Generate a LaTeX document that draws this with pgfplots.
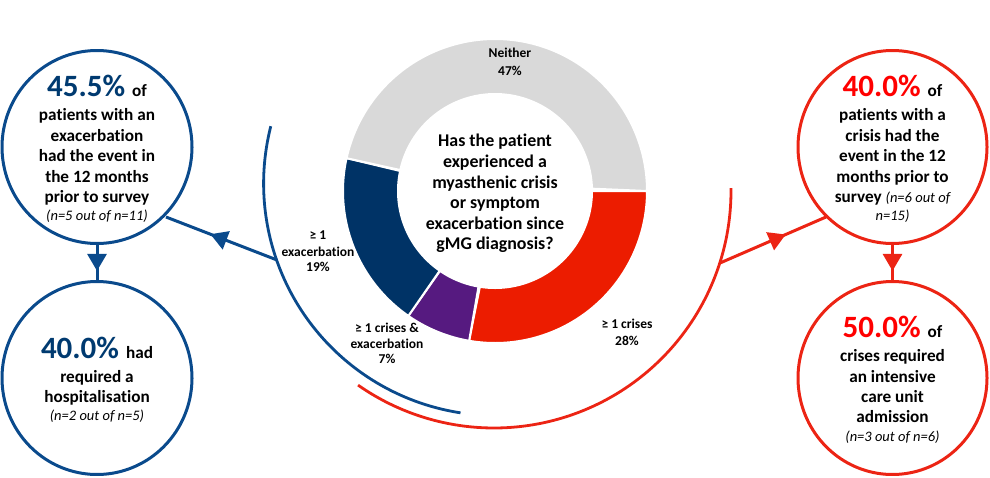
\documentclass[border=0pt]{standalone}
\usepackage{fontspec}
\setmainfont{Carlito}[Ligatures=NoCommon]
\usepackage{pgfplots}
\pgfplotsset{compat=1.18}
\usetikzlibrary{arrows.meta,decorations.markings}
\definecolor{segGray}{HTML}{D9D9D9}
\definecolor{segNavy}{HTML}{003366}
\definecolor{segPurple}{HTML}{561A80}
\definecolor{segRed}{HTML}{EC1C00}
\definecolor{lineBlue}{HTML}{0A4A8C}
\definecolor{lineRed}{HTML}{EC2414}
\definecolor{txtNavy}{HTML}{003A70}
\definecolor{txtRed}{HTML}{FF0000}
% donut data (% of patients)
\def\vCrisis{28}\def\vBoth{7}\def\vExac{19}\def\vNeither{47}
\pgfmathsetmacro\tot{\vCrisis+\vBoth+\vExac+\vNeither}
\pgfmathsetmacro\aA{-360*\vCrisis/\tot}
\pgfmathsetmacro\aB{\aA-360*\vBoth/\tot}
\pgfmathsetmacro\aC{\aB-360*\vExac/\tot}
\def\aD{-360}
\newcommand\sector[3]{%
 \addplot[fill=#1, draw=white, line width=2pt, line join=round, domain=0:2, samples=241, variable=\s]
 ({495+ifthenelse(\s<=1,152,97)*cos(ifthenelse(\s<=1,(#2)+((#3)-(#2))*\s,(#3)+((#2)-(#3))*(\s-1)))},
  {191-ifthenelse(\s<=1,152,97)*sin(ifthenelse(\s<=1,(#2)+((#3)-(#2))*\s,(#3)+((#2)-(#3))*(\s-1)))}) -- cycle;}
\newcommand\ring[5]{%
 \addplot[draw=#1, line width=3pt, domain=0:360, samples=150, variable=\s]
 ({#2+#4*cos(\s)},{#3-#5*sin(\s)}) -- cycle;}
\newcommand\txt[4]{\node[anchor=base, inner sep=0pt, font=#4] at (axis cs:#1,#2) {#3};}
\newcommand\fb{\fontsize{17.2}{20}\selectfont\bfseries}
\newcommand\fbig{\fontsize{31}{34}\selectfont\bfseries}
\newcommand\fit{\fontsize{14.5}{17}\selectfont\mdseries\itshape}
\newcommand\fdl{\fontsize{13.5}{16}\selectfont\bfseries}
\newcommand\fq{\fontsize{17.9}{21}\selectfont\bfseries}
\begin{document}
\begin{tikzpicture}
\begin{axis}[x=1pt, y=1pt, xmin=0, xmax=990, ymin=0, ymax=477, y dir=reverse, hide axis, clip=false]
% donut
\sector{segRed}{0}{\aA}
\sector{segPurple}{\aA}{\aB}
\sector{segNavy}{\aB}{\aC}
\sector{segGray}{\aC}{\aD}
% big arcs
\addplot[lineBlue, line width=2.8pt, domain=165.7:261.3, samples=100] ({495.6+232*cos(x)},{183.5-232*sin(x)});
\addplot[lineRed, line width=2.8pt, domain=-125:0.7, samples=100] ({494+237*cos(x)},{191-237*sin(x)});
% circles
\ring{lineBlue}{97}{147}{95}{96.5}
\ring{lineBlue}{97}{378}{95}{96.5}
\ring{lineRed}{892.5}{147}{94.5}{96.5}
\ring{lineRed}{892.5}{378}{94.5}{96.5}
% connectors
\addplot[lineBlue, line width=3pt, postaction={decorate}, decoration={markings, mark=at position 0.6 with {\arrow{Triangle[length=17pt,width=19pt]}}}] coordinates {(277,260) (166,217)};
\addplot[lineRed, line width=3pt, postaction={decorate}, decoration={markings, mark=at position 0.62 with {\arrow{Triangle[length=17pt,width=19pt]}}}] coordinates {(720,263) (826,217)};
\addplot[lineBlue, line width=3pt, postaction={decorate}, decoration={markings, mark=at position 0.72 with {\arrow{Triangle[length=17pt,width=19pt]}}}] coordinates {(97,245) (97,281)};
\addplot[lineRed, line width=3pt, postaction={decorate}, decoration={markings, mark=at position 0.72 with {\arrow{Triangle[length=17pt,width=19pt]}}}] coordinates {(892.5,245) (892.5,281)};
% donut labels
\txt{510}{57.5}{Neither}{\fdl}
\txt{510}{75.5}{47\%}{\fdl}
\txt{318}{239.5}{≥ 1}{\fdl}
\txt{318}{256.5}{exacerbation}{\fdl}
\txt{318}{271.5}{19\%}{\fdl}
\txt{387}{332.5}{≥ 1 crises \&}{\fdl}
\txt{387}{348.5}{exacerbation}{\fdl}
\txt{387}{363.5}{7\%}{\fdl}
\txt{627}{328.5}{≥ 1 crises}{\fdl}
\txt{627}{345.5}{28\%}{\fdl}
% question
\txt{495}{146}{Has the patient}{\fq}
\txt{495}{167}{experienced a}{\fq}
\txt{495}{188}{myasthenic crisis}{\fq}
\txt{495}{208}{or symptom}{\fq}
\txt{495}{229}{exacerbation since}{\fq}
\txt{495}{249}{gMG diagnosis?}{\fq}
% left top circle
\txt{97}{96.5}{{\fbig\color{txtNavy}45.5\% }of}{\fb}
\txt{97}{120.5}{patients with an}{\fb}
\txt{97}{141}{exacerbation}{\fb}
\txt{97}{161.5}{had the event in}{\fb}
\txt{97}{182}{the 12 months}{\fb}
\txt{97}{202.5}{prior to survey}{\fb}
\txt{97}{220}{(n=5 out of n=11)}{\fit}
% left bottom circle
\txt{97}{358}{{\fbig\color{txtNavy}40.0\% }had}{\fb}
\txt{97}{382}{required a}{\fb}
\txt{97}{402}{hospitalisation}{\fb}
\txt{97}{420}{(n=2 out of n=5)}{\fit}
% right top circle
\txt{892.5}{96.5}{{\fbig\color{txtRed}40.0\% }of}{\fb}
\txt{892.5}{120.5}{patients with a}{\fb}
\txt{892.5}{141}{crisis had the}{\fb}
\txt{892.5}{161.5}{event in the 12}{\fb}
\txt{892.5}{182}{months prior to}{\fb}
\txt{892.5}{202.5}{survey {\fit (n=6 out of}}{\fb}
\txt{892.5}{220}{n=15)}{\fit}
% right bottom circle
\txt{892.5}{337}{{\fbig\color{txtRed}50.0\% }of}{\fb}
\txt{892.5}{361}{crises required}{\fb}
\txt{892.5}{382}{an intensive}{\fb}
\txt{892.5}{402}{care unit}{\fb}
\txt{892.5}{422.5}{admission}{\fb}
\txt{892.5}{441}{(n=3 out of n=6)}{\fit}
\end{axis}
\path (current axis.south west) rectangle (current axis.north east);
\end{tikzpicture}
\end{document}
